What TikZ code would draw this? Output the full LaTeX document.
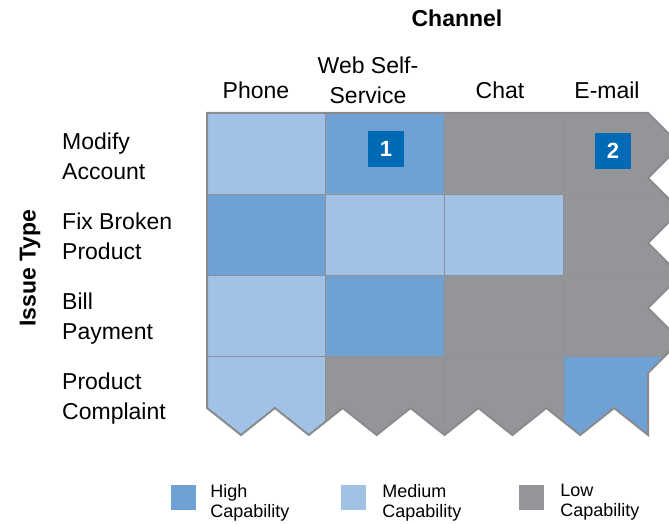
\documentclass[tikz,border=0pt]{standalone}
\usepackage{fontspec}
\setmainfont{Liberation Sans}
\usetikzlibrary{positioning}

\definecolor{highcap}{RGB}{111,161,212}
\definecolor{medcap}{RGB}{161,194,230}
\definecolor{lowcap}{RGB}{147,149,152}
\definecolor{badgeblue}{RGB}{0,106,180}
\definecolor{edgegray}{RGB}{138,139,143}
\definecolor{cellline}{RGB}{143,145,149}

\tikzset{
  lbl/.style={font=\fontsize{23}{30}\selectfont, inner sep=0pt},
  rowlbl/.style={lbl, anchor=west, align=left},
  collbl/.style={lbl, align=center},
  axislbl/.style={font=\fontsize{23}{30}\selectfont\bfseries, inner sep=0pt},
  badge/.style={fill=badgeblue, text=white, font=\fontsize{22}{22}\selectfont\bfseries,
    minimum size=36pt, inner sep=0pt},
  legbox/.style={fill=#1, minimum size=25pt, inner sep=0pt},
  leglbl/.style={font=\fontsize{18}{20}\selectfont, anchor=west, align=left, inner sep=0pt},
}

% outline of the grid, torn on the right and at the bottom
\newcommand\gridshape{(207,113) -- (648,113) -- (680.5,145.5) -- (648,178) -- (680.5,210.5)
  -- (648,243) -- (680.5,275.5) -- (648,308) -- (680.5,340.5) -- (648,373) -- (648,435)
  -- (614.1,408) -- (580.2,435) -- (546.3,408) -- (512.4,435) -- (478.4,408) -- (444.5,435)
  -- (410.6,408) -- (376.7,435) -- (342.7,408) -- (308.8,435) -- (274.9,408) -- (241,435)
  -- (207,408) -- cycle}

\begin{document}
\begin{tikzpicture}[x=1pt,y=-1pt]
  \useasboundingbox (0,0) rectangle (669,524);

  \begin{scope}
    \clip \gridshape;
    \fill[lowcap] (200,100) rectangle (700,450);
    % Modify Account
    \fill[medcap] (207,113) rectangle (325,194);
    \fill[highcap] (325,113) rectangle (444,194);
    % Fix Broken Product
    \fill[highcap] (207,194) rectangle (325,275);
    \fill[medcap] (325,194) rectangle (563,275);
    % Bill Payment
    \fill[medcap] (207,275) rectangle (325,356);
    \fill[highcap] (325,275) rectangle (444,356);
    % Product Complaint
    \fill[medcap] (207,356) rectangle (325,440);
    \fill[highcap] (563,356) rectangle (700,440);
    \foreach \x in {325,444,563}
      \draw[cellline, line width=1pt] (\x,113) -- (\x,440);
    \foreach \y in {194,275,356}
      \draw[cellline, line width=1pt] (207,\y) -- (700,\y);
  \end{scope}
  \draw[edgegray, line width=2pt, line join=miter] \gridshape;

  \node[badge] (badgeone) at (386,149) {1};
  \node[badge] (badgetwo) at (613,151) {2};

  % axis titles
  \node[axislbl, anchor=base] (channel) at (457,27) {Channel};
  \node[axislbl, rotate=90] (issuetype) at (30,268) {Issue Type};

  % channels
  \node[lbl, anchor=base] (phone) at (256,99) {Phone};
  \node[collbl] (web) at (368,80.6) {Web Self-\\Service};
  \node[lbl, anchor=base] (chat) at (500,99) {Chat};
  \node[lbl, anchor=base] (email) at (607,99) {E-mail};

  % issue types
  \node[rowlbl] (modify) at (62,156.6) {Modify\\Account};
  \node[rowlbl] (fix) at (62,236.6) {Fix Broken\\Product};
  \node[rowlbl] (bill) at (62,319) {Bill\\Payment};
  \node[rowlbl] (complaint) at (62,399) {Product\\Complaint};

  % legend
  \node[legbox=highcap] (highbox) at (183.5,497.5) {};
  \node[legbox=medcap] (medbox) at (353.5,497.5) {};
  \node[legbox=lowcap] (lowbox) at (531.5,497.5) {};
  \node[leglbl, right=14pt of highbox, yshift=-5pt] (highlbl) {High\\Capability};
  \node[leglbl, right=16pt of medbox, yshift=-5pt] (medlbl) {Medium\\Capability};
  \node[leglbl, right=16pt of lowbox, yshift=-5pt] (lowlbl) {Low\\Capability};
\end{tikzpicture}
\end{document}
